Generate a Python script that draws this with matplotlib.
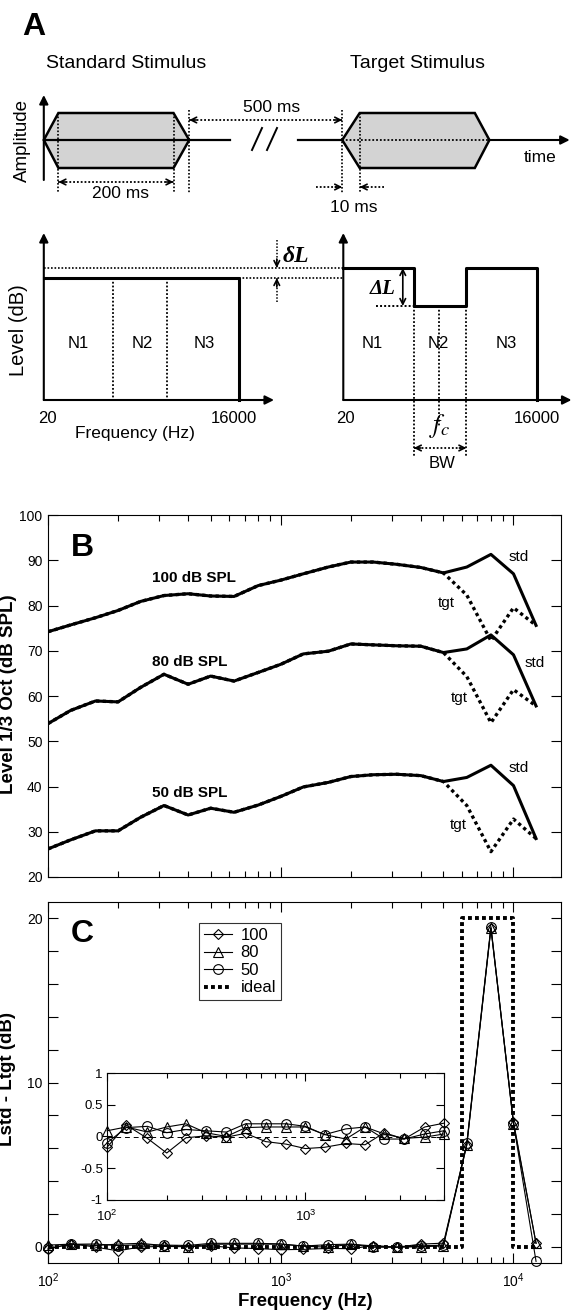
import matplotlib
matplotlib.use("Agg")
import matplotlib.pyplot as plt
from matplotlib.patches import Polygon
import numpy as np

plt.rcParams["font.family"] = ["Liberation Sans", "DejaVu Sans"]
plt.rcParams["mathtext.default"] = "regular"

W, H = 573, 1310

# 1/3-octave centre frequencies (Hz)
freqs = [100, 125, 160, 200, 250, 315, 400, 500, 630, 800, 1000, 1250,
         1600, 2000, 2500, 3150, 4000, 5000, 6300, 8000, 10000, 12500]

# panel B: level per 1/3 octave (dB SPL), standard and target
std100 = [74.2, 75.7, 77.3, 78.9, 80.9, 82.2, 82.6, 82.1, 82.0, 84.4, 85.6,
          87.0, 88.5, 89.6, 89.6, 89.1, 88.4, 87.2, 88.5, 91.3, 87.0, 75.6]
tgt100 = [74.2, 75.7, 77.3, 78.9, 80.9, 82.2, 82.6, 82.1, 82.0, 84.4, 85.6,
          87.0, 88.5, 89.6, 89.6, 89.1, 88.4, 87.2, 82.3, 72.2, 79.5, 75.6]
std80 = [53.9, 56.8, 58.9, 58.7, 61.9, 64.8, 62.6, 64.4, 63.3, 65.2, 67.0,
         69.3, 69.9, 71.5, 71.3, 71.1, 71.0, 69.6, 70.4, 73.5, 69.1, 57.8]
tgt80 = [53.9, 56.8, 58.9, 58.7, 61.9, 64.8, 62.6, 64.4, 63.3, 65.2, 67.0,
         69.3, 69.9, 71.5, 71.3, 71.1, 71.0, 69.6, 64.3, 54.1, 61.4, 57.8]
std50 = [26.2, 28.2, 30.2, 30.2, 33.2, 35.8, 33.7, 35.2, 34.3, 35.9, 37.8,
         39.9, 40.9, 42.2, 42.6, 42.7, 42.4, 41.1, 42.0, 44.7, 40.2, 28.5]
tgt50 = [26.2, 28.2, 30.2, 30.2, 33.2, 35.8, 33.7, 35.2, 34.3, 35.9, 37.8,
         39.9, 40.9, 42.2, 42.6, 42.7, 42.4, 41.1, 35.8, 25.6, 32.8, 28.5]

# panel C: Lstd - Ltgt (dB)
d100 = [-0.17, 0.18, -0.03, -0.26, -0.02, 0.01, -0.01, 0.05, -0.08, -0.12, -0.19,
        -0.17, -0.11, -0.13, 0.06, -0.04, 0.15, 0.21, 6.2, 19.4, 7.6, 0.2]
d80 = [0.09, 0.15, 0.07, 0.15, 0.20, 0.06, 0.00, 0.14, 0.15, 0.15, 0.15,
       0.03, -0.04, 0.15, 0.04, -0.03, -0.01, 0.04, 6.2, 19.4, 7.5, 0.2]
d50 = [-0.10, 0.14, 0.16, 0.06, 0.11, 0.09, 0.07, 0.20, 0.20, 0.20, 0.16,
       0.03, 0.12, 0.15, -0.04, -0.04, 0.04, 0.09, 6.3, 19.5, 7.5, -0.9]
ideal_f = [100, 6000, 6000, 10000, 10000, 12500]
ideal_v = [0, 0, 20, 20, 0, 0]
n_inset = 18  # points up to 5 kHz shown in the inset

fig = plt.figure(figsize=(W / 100, H / 100), dpi=100)


def frame(l, t, r, b):
    return [l / W, 1 - b / H, (r - l) / W, (b - t) / H]


# ---------------- panel A (schematic, pixel units) ----------------
axA = fig.add_axes([0, 1 - 490 / H, 1, 490 / H])
axA.set_xlim(0, W)
axA.set_ylim(490, 0)
axA.axis("off")
serif = ["Liberation Serif", "DejaVu Serif"]


def solid_arrow(x0, y0, x1, y1):
    axA.annotate("", xy=(x1, y1), xytext=(x0, y0),
                 arrowprops=dict(arrowstyle="-|>", lw=1.5, color="k",
                                 mutation_scale=13, shrinkA=0, shrinkB=0))


def dotted(xs, ys, lw=1.5):
    axA.plot(xs, ys, color="k", lw=lw, ls=(0, (1, 1.1)), solid_capstyle="butt")


def head(x0, y0, x1, y1):
    axA.annotate("", xy=(x1, y1), xytext=(x0, y0),
                 arrowprops=dict(arrowstyle="->", lw=1.2, color="k",
                                 mutation_scale=10, shrinkA=0, shrinkB=0))


def dotted_arrow(x0, y0, x1, y1, both=True):
    dotted([x0, x1], [y0, y1], lw=1.3)
    L = np.hypot(x1 - x0, y1 - y0)
    ux, uy = (x1 - x0) / L, (y1 - y0) / L
    head(x1 - ux * 7, y1 - uy * 7, x1, y1)
    if both:
        head(x0 + ux * 7, y0 + uy * 7, x0, y0)


axA.text(22, 27, "A", fontsize=23, fontweight="heavy", ha="left", va="center")
axA.text(126, 63, "Standard Stimulus", fontsize=14, ha="center", va="center")
axA.text(418, 63, "Target Stimulus", fontsize=14, ha="center", va="center")

std_hex = [(43.8, 140), (58.4, 113), (173.5, 113), (189.2, 140), (173.5, 168), (58.4, 168)]
tgt_hex = [(342.2, 140), (359.7, 113), (474.8, 113), (489.4, 140), (474.8, 168), (359.7, 168)]
for pts in (std_hex, tgt_hex):
    axA.add_patch(Polygon(pts, closed=True, fc="#d3d3d3", ec="k", lw=1.8, zorder=2))

axA.plot([43.8, 230], [140, 140], color="k", lw=1.6, zorder=3)
axA.plot([252, 262], [150, 128], color="k", lw=1.4)
axA.plot([267, 277], [150, 128], color="k", lw=1.4)
axA.plot([297.6, 342.2], [140, 140], color="k", lw=1.6, zorder=3)
dotted([342.2, 489.4], [140, 140], lw=1.3)
solid_arrow(489.4, 140, 569.7, 140)
solid_arrow(43.8, 180, 43.8, 95)
axA.text(22, 140, "Amplitude", fontsize=13.5, rotation=90, ha="center", va="center")
axA.text(540, 157, "time", fontsize=12.5, ha="center", va="center")

for x, y0, y1 in [(58.4, 113, 193), (173.5, 113, 193), (189.2, 110, 193),
                  (342.2, 110, 193), (359.7, 113, 193)]:
    dotted([x, x], [y0, y1], lw=1.2)

dotted_arrow(189.2, 120, 342.2, 120)
axA.text(272, 107, "500 ms", fontsize=12.5, ha="center", va="center")
dotted_arrow(58.4, 182, 173.5, 182)
axA.text(120.5, 193, "200 ms", fontsize=12.5, ha="center", va="center")
dotted_arrow(316, 187, 342.2, 187, both=False)
dotted_arrow(383.5, 187, 359.7, 187, both=False)
axA.text(354, 208, "10 ms", fontsize=12.5, ha="center", va="center")

# level/frequency schematics
solid_arrow(43.8, 400, 43.8, 233)
solid_arrow(43.8, 400, 274, 400)
solid_arrow(343.3, 400, 343.3, 233)
solid_arrow(343.3, 400, 571.5, 400)
axA.text(19, 330, "Level (dB)", fontsize=14.5, rotation=90, ha="center", va="center")

axA.plot([43.8, 239.2, 239.2], [278, 278, 400], color="k", lw=2.2)
axA.plot([343.3, 413.8, 413.8, 466.4, 466.4, 536.9, 536.9],
         [268, 268, 306, 306, 268, 268, 400], color="k", lw=2.2)
for x in (113.2, 166.9):
    dotted([x, x], [278, 400], lw=1.3)
dotted([43.8, 343.3], [268, 268], lw=1.2)
dotted([239.2, 343.3], [278, 278], lw=1.2)
dotted([376.2, 413.8], [306, 306], lw=1.4)
for x, y1 in [(413.8, 457), (466.4, 457), (439.4, 427)]:
    dotted([x, x], [306, y1], lw=1.3)

dotted([276.8, 276.8], [240, 268], lw=1.1)
head(276.8, 259, 276.8, 268)
dotted([276.8, 276.8], [302, 278], lw=1.1)
head(276.8, 287, 276.8, 278)
axA.text(296, 257, "δL", fontsize=17, ha="center", va="center", family=serif,
         style="italic", fontweight="bold")
axA.annotate("", xy=(402.8, 268), xytext=(402.8, 306),
             arrowprops=dict(arrowstyle="<->", lw=1.2, color="k",
                             mutation_scale=10, shrinkA=0, shrinkB=0))
axA.text(383, 289, "ΔL", fontsize=15, ha="center", va="center", family=serif,
         style="italic", fontweight="bold")
dotted_arrow(413.8, 448, 466.4, 448)

for x, lab in [(78.5, "N1"), (142.4, "N2"), (204.5, "N3"),
               (372.5, "N1"), (438.3, "N2"), (505.8, "N3")]:
    axA.text(x, 343, lab, fontsize=12, ha="center", va="center")
for x, lab in [(47.5, "20"), (233.7, "16000"), (345.1, "20"), (536.9, "16000")]:
    axA.text(x, 418, lab, fontsize=12, ha="center", va="center")
axA.text(135, 433, "Frequency (Hz)", fontsize=12.5, ha="center", va="center")
axA.text(440, 426, r"$\mathit{f_c}$", fontsize=19, ha="center", va="center",
         math_fontfamily="stix")
axA.text(442, 463, "BW", fontsize=12, ha="center", va="center")


def style_log_axis(ax):
    ax.set_xscale("log")
    ax.tick_params(which="both", direction="in", top=True, right=True,
                   labelsize=10, pad=4)
    ax.tick_params(which="major", length=7, width=0.8)
    ax.tick_params(which="minor", length=4, width=0.8)
    for s in ax.spines.values():
        s.set_linewidth(0.8)


# ---------------- panel B ----------------
axB = fig.add_axes(frame(48, 515, 561, 877))
for s_, t_ in [(std100, tgt100), (std80, tgt80), (std50, tgt50)]:
    axB.plot(freqs, t_, color="k", lw=2.4, ls=(0, (1, 1)))
    axB.plot(freqs, s_, color="k", lw=2.2)
style_log_axis(axB)
axB.set_xlim(100, 16000)
axB.set_ylim(20, 100)
axB.set_yticks(range(20, 101, 10))
axB.tick_params(which="both", labelbottom=False)
axB.text(0.045, 0.909, "B", transform=axB.transAxes, fontsize=23,
         fontweight="heavy", ha="left", va="center")
for f, y, lab in [(422, 86.1, "100 dB SPL"), (408, 67.5, "80 dB SPL"), (408, 38.6, "50 dB SPL")]:
    axB.text(f, y, lab, fontsize=11, fontweight="bold", ha="center", va="center")
for f, y in [(10500, 90.7), (12300, 67.3), (10500, 44.1)]:
    axB.text(f, y, "std", fontsize=11, ha="center", va="center")
for f, y in [(5130, 80.6), (5840, 59.6), (5780, 31.5)]:
    axB.text(f, y, "tgt", fontsize=11, ha="center", va="center")
fig.text(9 / W, 1 - 694 / H, "Level 1/3 Oct (dB SPL)", rotation=90, fontsize=13.5,
         fontweight="bold", ha="center", va="center")

# ---------------- panel C ----------------
axC = fig.add_axes(frame(48, 902, 561, 1263))
series = [(d100, "D", 5, "100"), (d80, "^", 7, "80"), (d50, "o", 7, "50")]
for d, m, ms, lab in series:
    axC.plot(freqs, d, color="k", lw=0.8, marker=m, ms=ms, mfc="none", mec="k",
             mew=0.8, label=lab, clip_on=False, zorder=4)
axC.plot(ideal_f, ideal_v, color="k", lw=2.8, ls=(0, (1, 0.8)), label="ideal", zorder=3)
style_log_axis(axC)
axC.set_xlim(100, 16000)
axC.set_ylim(-1, 21)
axC.set_yticks(range(0, 21, 2))
axC.set_yticklabels([str(v) if v % 10 == 0 else "" for v in range(0, 21, 2)])
axC.tick_params(axis="x", which="major", pad=6)
axC.text(0.045, 0.911, "C", transform=axC.transAxes, fontsize=23,
         fontweight="heavy", ha="left", va="center")
leg = axC.legend(loc="upper left", bbox_to_anchor=(0.294, 0.942), borderaxespad=0,
                 fontsize=12, frameon=True, fancybox=False, edgecolor="k",
                 handlelength=1.7, labelspacing=0.15, borderpad=0.3, handletextpad=0.5)
leg.get_frame().set_linewidth(0.8)
fig.text(8 / W, 1 - 1079 / H, "Lstd - Ltgt (dB)", rotation=90, fontsize=13.5,
         fontweight="bold", ha="center", va="center")
fig.text(305 / W, 1 - 1301 / H, "Frequency (Hz)", fontsize=13.5,
         fontweight="bold", ha="center", va="center")

# inset
axI = fig.add_axes(frame(107, 1073, 444, 1200))
axI.plot(ideal_f, ideal_v, color="k", lw=0.7, ls=(0, (5, 4)))
for d, m, ms, lab in series:
    axI.plot(freqs[:n_inset], d[:n_inset], color="k", lw=0.8, marker=m, ms=ms,
             mfc="none", mec="k", mew=0.8, clip_on=False, zorder=4)
style_log_axis(axI)
axI.set_xlim(100, 5000)
axI.set_ylim(-1, 1)
axI.set_yticks([-1, -0.5, 0, 0.5, 1])
axI.set_yticklabels(["-1", "-0.5", "0", "0.5", "1"])
axI.tick_params(which="both", labelsize=9.5, pad=3)
axI.tick_params(axis="x", which="major", pad=6)
axI.tick_params(which="major", length=6)
axI.tick_params(which="minor", length=3.5)

fig.savefig("out.png", dpi=100)
